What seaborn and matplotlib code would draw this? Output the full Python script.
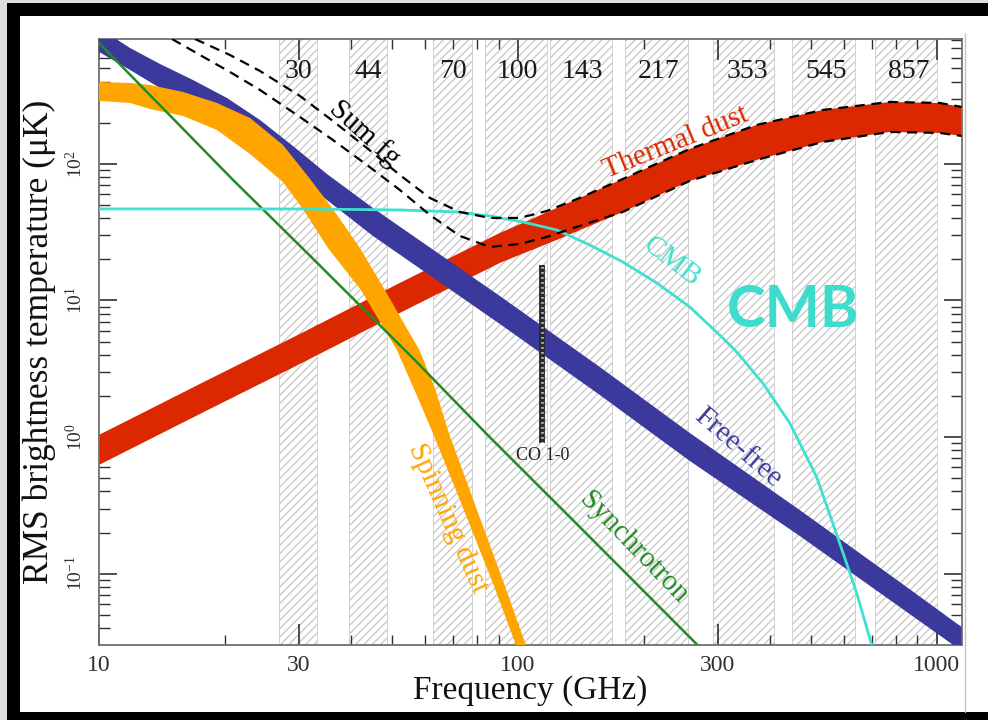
import matplotlib
matplotlib.use("Agg")
import matplotlib.pyplot as plt
import seaborn as sns
import numpy as np
import pandas as pd
from matplotlib.ticker import FixedLocator, LogLocator, NullFormatter, FixedFormatter, LogFormatterMathtext
from matplotlib.patches import Rectangle
from matplotlib.lines import Line2D
import matplotlib.transforms as mtransforms

# ---------------- data (frequency in GHz, RMS brightness temperature in uK) ----------------
band_names = ["30", "44", "70", "100", "143", "217", "353", "545", "857"]
band_centers = [30, 44, 70, 100, 143, 217, 353, 545, 857]
band_lo = [26.9, 39.5, 62.7, 83.4, 119.2, 180.0, 292.0, 450.8, 711.0]
band_hi = [33.1, 48.7, 77.6, 117.3, 167.6, 254.6, 410.0, 637.0, 1000.0]

sync_f = [10, 20.9, 31.4, 56.1, 85.7, 135.2, 268.9, 300]
sync_T = [767, 76.2, 22.3, 3.80, 1.00, 0.248, 0.030, 0.0215]

ff_f = [10, 11.86, 13.98, 16.76, 20.21, 24.23, 29.04, 35.01, 45.08, 90.59, 156.9, 257.4, 471.0, 816.0, 1147]
ff_hi = [987.4, 705.0, 538.5, 411.1, 303.5, 209.6, 135.2, 84.35, 47.57, 10.79, 3.264, 1.073, 0.293, 0.0872, 0.0408]
ff_lo = [659.0, 486.8, 359.3, 269.8, 195.9, 135.2, 87.24, 54.42, 29.68, 6.735, 2.036, 0.6696, 0.1892, 0.0572, 0.02725]

spin_hi_f = [10, 11.86, 13.23, 15.87, 19.12, 22.93, 27.49, 31.36, 36.18, 41.97, 48.15, 53.74, 58.21,
             63.38, 68.45, 78.31, 92.61, 104.5, 108.6]
spin_hi_T = [397.6, 390.8, 378.0, 335.9, 279.1, 216.8, 137.5, 82.94, 46.77, 24.24, 11.95, 6.62, 4.35,
             2.29, 1.07, 0.347, 0.0857, 0.0302, 0.0205]
spin_lo_f = [10, 11.86, 13.23, 15.87, 19.12, 22.93, 27.49, 30.68, 35.20, 42.20, 47.35, 51.43, 58.03,
             62.69, 72.71, 87.17, 98.91, 102.8]
spin_lo_T = [288.7, 279.1, 252.2, 224.2, 177.1, 118.2, 73.72, 46.77, 24.24, 11.95, 6.62, 4.35, 1.87,
             1.07, 0.347, 0.0857, 0.0302, 0.0205]

dust_f = [10, 17.42, 30.18, 52.28, 90.59, 123.9, 178.1, 257.4, 371.9, 534.5, 772.4, 1016.6, 1147]
dust_hi = [1.038, 2.451, 5.69, 13.44, 31.21, 47.57, 77.5, 128.6, 192.7, 248.0, 283.8, 279.1, 261.0]
dust_lo = [0.626, 1.478, 3.43, 8.11, 18.83, 27.74, 44.46, 74.99, 106.8, 144.6, 171.2, 168.4, 160.1]

cmb_f = [10, 30.18, 52.28, 71.5, 85.75, 102.8, 123.9, 148.5, 178.1, 214.7, 257.4, 308.6, 333.2, 384.4,
         445.9, 517.2, 586.8, 644.4, 699.8, 731]
cmb_T = [46.77, 46.77, 46.0, 44.46, 41.56, 37.57, 32.83, 25.5, 19.15, 13.44, 8.97, 5.32, 4.20, 2.49,
         1.27, 0.511, 0.168, 0.0724, 0.0302, 0.0168]

sumhi_f = [16.95, 20.54, 24.23, 30.18, 36.18, 43.62, 52.28, 61.66, 72.71, 85.75, 101.1, 117.3, 140.6,
           178.1, 257.4, 371.9, 534.5, 772.4, 1016.6, 1147]
sumhi_T = [820, 626.5, 478.4, 314.1, 206.1, 130.7, 82.9, 56.30, 44.46, 40.19, 40.19, 45.22, 56.30,
           77.5, 128.6, 192.7, 248.0, 283.8, 279.1, 261.0]
sumlo_f = [14.94, 17.42, 20.54, 24.23, 30.18, 36.18, 43.62, 52.28, 61.66, 72.71, 85.75, 101.1, 117.3,
           140.6, 178.1, 257.4, 371.9, 534.5, 772.4, 1016.6, 1147]
sumlo_T = [820, 626.5, 470.5, 347.4, 220.4, 149.6, 98.2, 64.4, 42.27, 29.68, 24.66, 25.93, 29.18,
           35.13, 44.46, 74.99, 106.8, 144.6, 171.2, 168.4, 160.1]

co_f = [114.1, 114.1]
co_T = [0.907, 18.2]

x_major = [10, 30, 100, 300, 1000]
x_major_labels = ["10", "30", "100", "300", "1000"]

# ---------------- style ----------------
sns.set_theme(style="ticks")
plt.rcParams["font.family"] = ["Liberation Serif", "DejaVu Serif"]
plt.rcParams["mathtext.fontset"] = "stix"
plt.rcParams["hatch.linewidth"] = 1.0

C_FF = "#3b3a9c"
C_SPIN = "#ffa500"
C_DUST = "#dc2800"
C_SYNC = "#228b22"
C_CMB = "#40e0d0"
C_HATCH = "#cbcbcb"

W, H = 988, 720
fig = plt.figure(figsize=(W / 100, H / 100), dpi=100, facecolor="white")


def px_rect(x0, y0, x1, y1, color):
    fig.add_artist(Rectangle((x0 / W, 1 - y1 / H), (x1 - x0) / W, (y1 - y0) / H,
                             transform=fig.transFigure, facecolor=color, edgecolor="none", zorder=-5))


px_rect(0, 0, 7, 720, "#dedede")
px_rect(0, 0, 988, 3, "#dedede")
px_rect(7, 3, 20, 720, "black")
px_rect(7, 3, 988, 16, "black")
px_rect(7, 712, 988, 720, "black")
fig.add_artist(Line2D([965 / W, 965 / W], [1 - 712 / H, 1 - 33 / H], transform=fig.transFigure,
                      color="#c4c4c4", lw=1.0))

ax = fig.add_axes([99 / W, 1 - 645 / H, 863 / W, 606 / H])
ax.set_facecolor("white")
ax.set_xscale("log")
ax.set_yscale("log")
ax.set_xlim(10, 1150)
ax.set_ylim(0.0301, 820)

# Planck frequency bands (hatched)
for lo, hi in zip(band_lo, band_hi):
    ax.axvspan(lo, hi, facecolor="white", edgecolor=C_HATCH, hatch="////", lw=0.6, zorder=0)

# foreground bands (closed outlines: upper edge then lower edge reversed)
ax.fill(dust_f + dust_f[::-1], dust_hi + dust_lo[::-1], color=C_DUST, lw=0, zorder=2)
ax.fill(ff_f + ff_f[::-1], ff_hi + ff_lo[::-1], color=C_FF, lw=0, zorder=3)
ax.fill(spin_hi_f + spin_lo_f[::-1], spin_hi_T + spin_lo_T[::-1], color=C_SPIN, lw=0, zorder=4)

# thin lines via seaborn
sns.lineplot(x=sync_f, y=sync_T, ax=ax, color=C_SYNC, lw=1.8, sort=False, estimator=None, zorder=5)
sns.lineplot(x=cmb_f, y=cmb_T, ax=ax, color=C_CMB, lw=2.0, sort=False, estimator=None, zorder=6)
for sf, sT in ((sumhi_f, sumhi_T), (sumlo_f, sumlo_T)):
    sns.lineplot(x=sf, y=sT, ax=ax, color="black", lw=1.6, sort=False, estimator=None, zorder=7,
                 linestyle=(0, (4.5, 3)))

# CO 1-0 line
ax.plot(co_f, co_T, color="#2a2a2a", lw=4.2, solid_capstyle="butt", zorder=8)
ax.plot(co_f, co_T, color="white", lw=2.0, linestyle=(0, (0.4, 1.4)), zorder=9)

# axes / ticks
for sp in ax.spines.values():
    sp.set_color("#707070")
    sp.set_linewidth(1.3)
    sp.set_visible(True)

ax.xaxis.set_major_locator(FixedLocator(x_major))
ax.xaxis.set_major_formatter(FixedFormatter(x_major_labels))
ax.xaxis.set_minor_locator(LogLocator(base=10, subs=(2, 4, 5, 6, 7, 8, 9), numticks=20))
ax.xaxis.set_minor_formatter(NullFormatter())
ax.yaxis.set_major_locator(LogLocator(base=10, numticks=20))
ax.yaxis.set_major_formatter(LogFormatterMathtext())
ax.yaxis.set_minor_locator(LogLocator(base=10, subs=(2, 3, 4, 5, 6, 7, 8, 9), numticks=20))
ax.yaxis.set_minor_formatter(NullFormatter())

ax.tick_params(axis="both", which="both", direction="in", top=True, right=True, colors="#303030")
ax.tick_params(axis="x", which="major", length=15, width=1.2, labelsize=17, pad=7)
ax.tick_params(axis="x", which="minor", length=7, width=1.0)
ax.tick_params(axis="y", which="major", length=13, width=1.2, labelsize=14, pad=9)
ax.tick_params(axis="y", which="minor", length=8, width=1.0)
for lab in ax.get_yticklabels():
    lab.set_rotation(90)
    lab.set_va("center")
    lab.set_ha("right")

ax.set_xlabel("Frequency (GHz)", fontsize=24, color="#111111")
ax.xaxis.set_label_coords(0.5, -0.05)
ax.set_ylabel("RMS brightness temperature (\u03bcK)", fontsize=25.5, color="#111111")
ax.yaxis.set_label_coords(-0.05, 0.5)

# band labels at the top
btrans = mtransforms.blended_transform_factory(ax.transData, ax.transAxes)
for name, c in zip(band_names, band_centers):
    ax.text(c, 0.946, name, transform=btrans, ha="center", va="center", fontsize=20, color="#1a1a1a", zorder=10)


def lab(text, x, y, rot, color, size=21):
    ax.text(x, y, text, transform=ax.transAxes, rotation=rot, rotation_mode="anchor",
            ha="center", va="center", fontsize=size, color=color, zorder=11)


lab("Sum fg", 0.3082, 0.8449, -42, "black")
lab("Thermal dust", 0.6686, 0.8284, 22, C_DUST)
lab("CMB", 0.6640, 0.6320, -37, C_CMB)
lab("Free-free", 0.7404, 0.3251, -41, C_FF)
lab("Synchrotron", 0.6188, 0.1601, -46, C_SYNC)
lab("Spinning dust", 0.4044, 0.2096, -66, C_SPIN)
lab("CO 1-0", 0.5145, 0.3135, 0, "#222222", size=13)

ax.text(0.8042, 0.5512, "CMB", transform=ax.transAxes, ha="center", va="center",
        fontsize=42, fontfamily="Lato", fontweight="bold", color="#3ddccc", zorder=12)

fig.savefig("out.png", dpi=100, facecolor="white")
